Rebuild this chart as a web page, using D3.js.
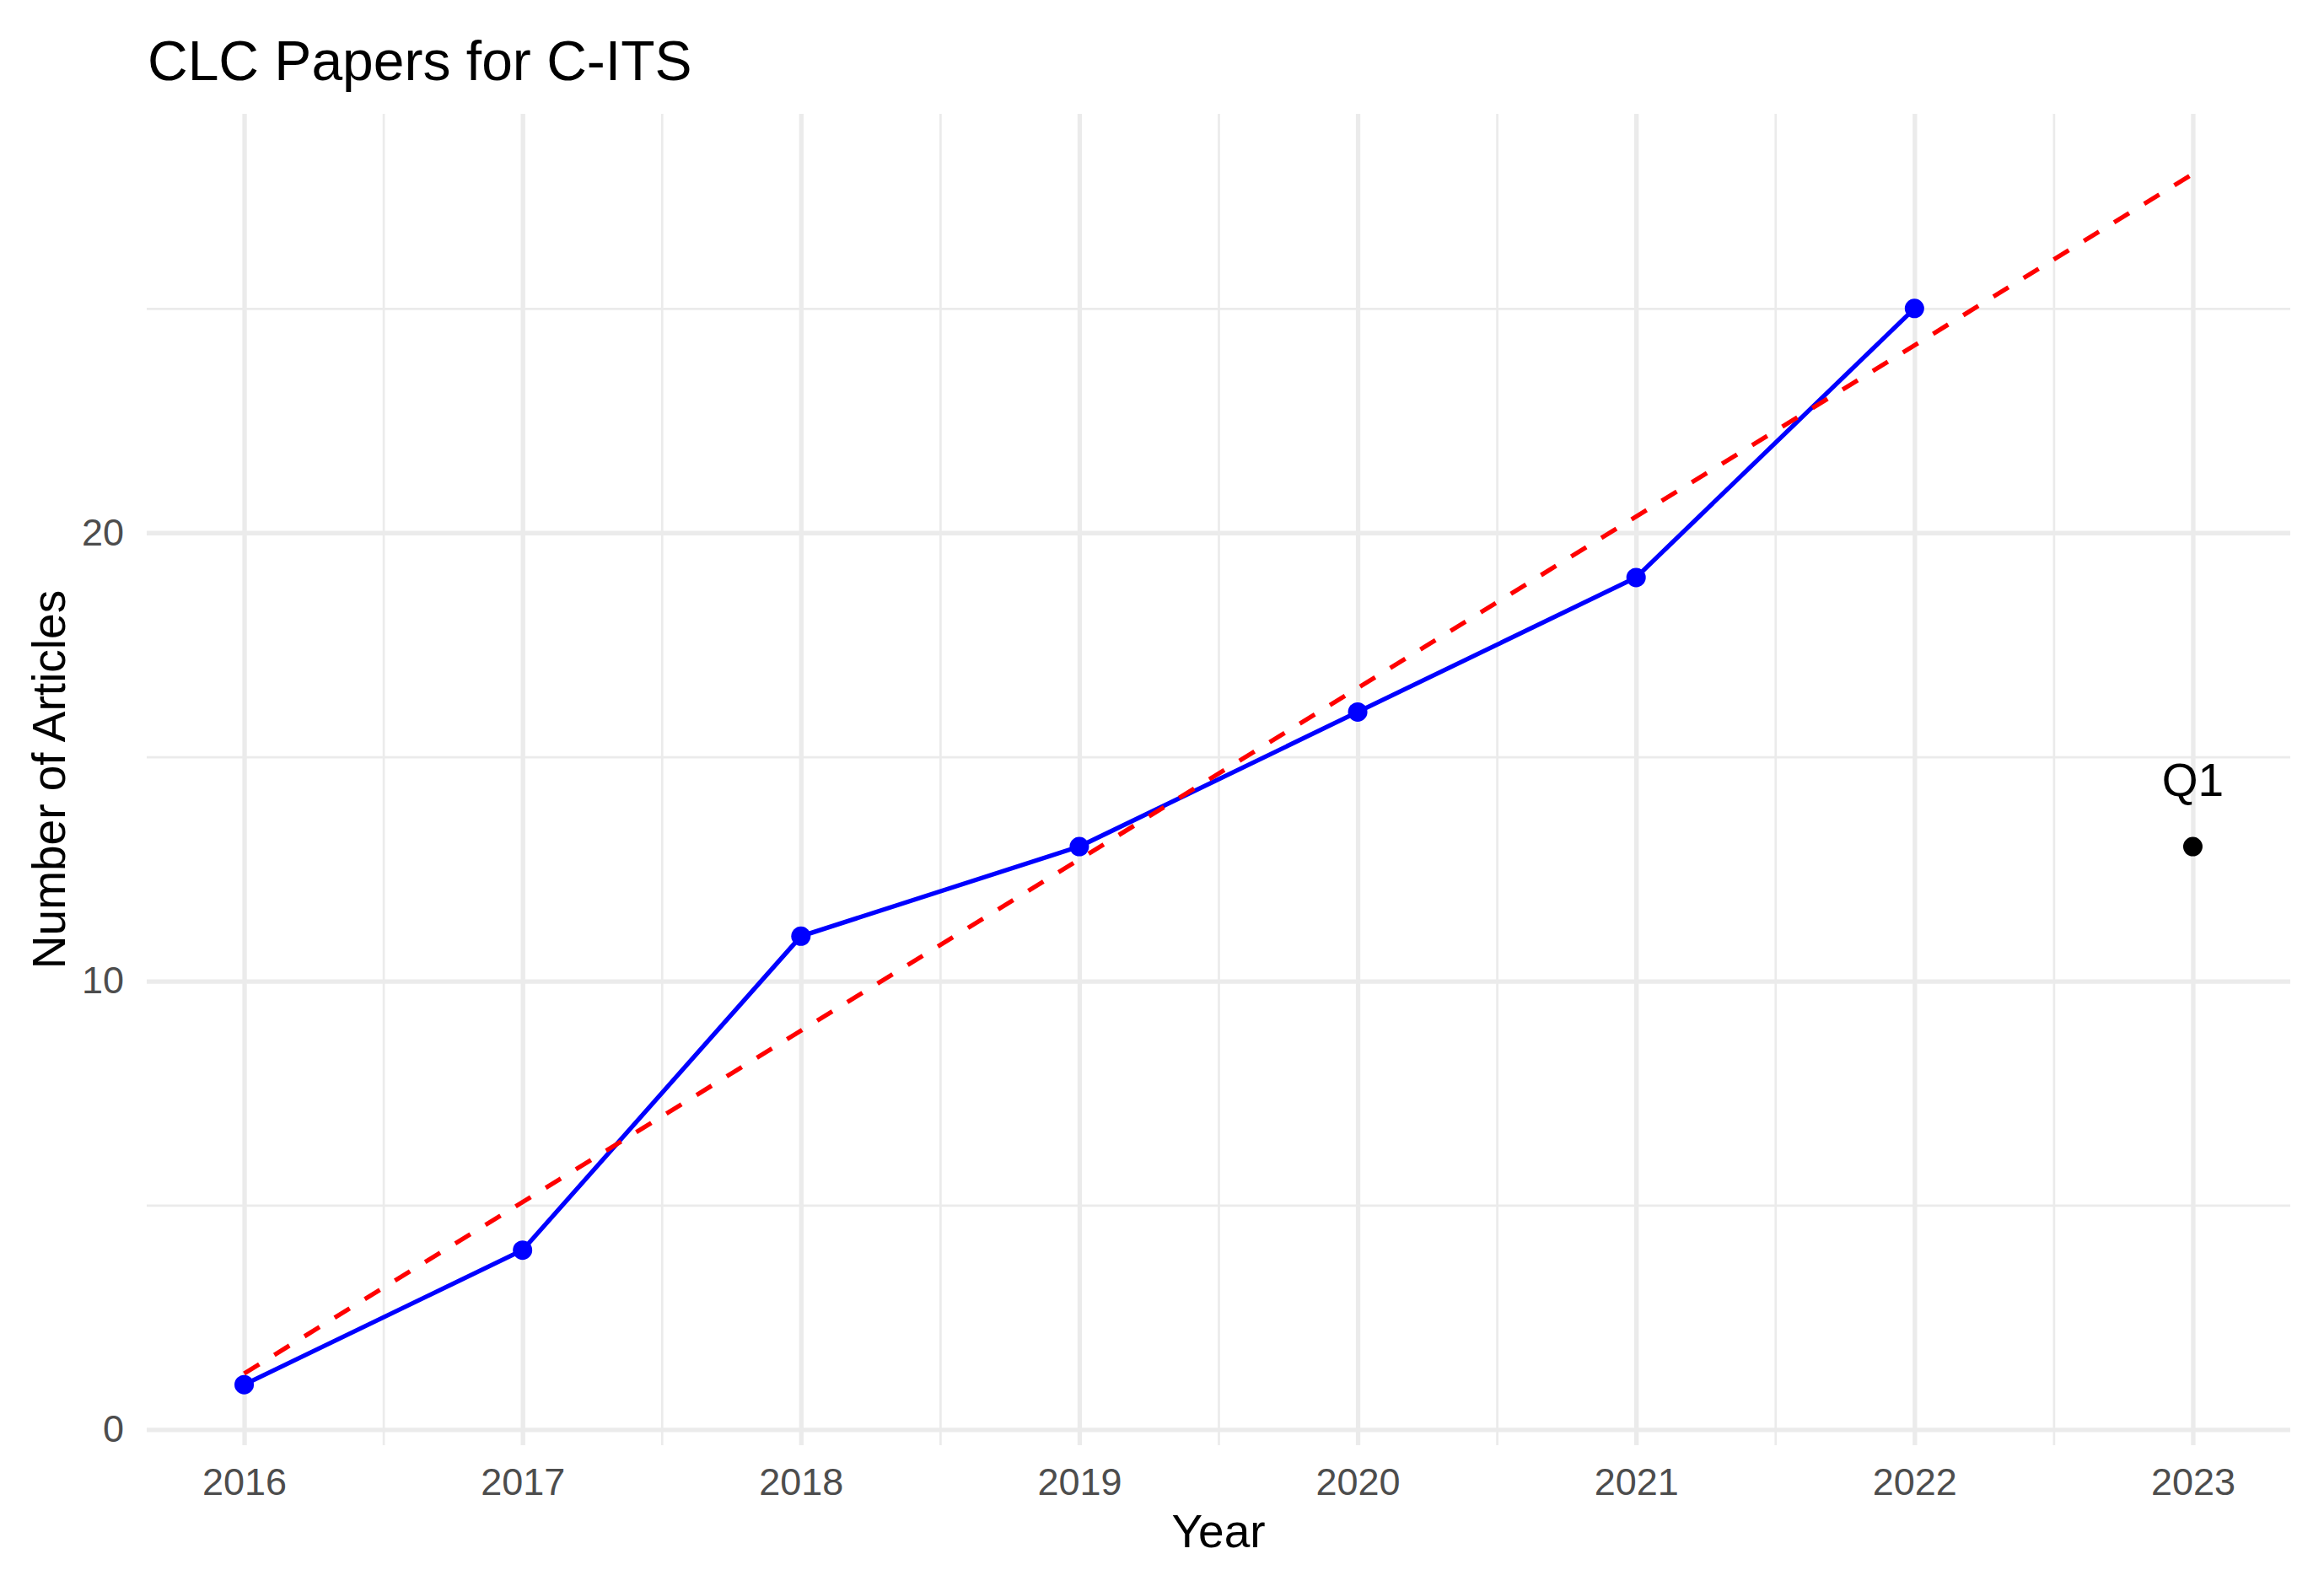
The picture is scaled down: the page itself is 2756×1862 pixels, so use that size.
<!DOCTYPE html>
<html>
<head>
<meta charset="utf-8">
<script src="https://cdn.jsdelivr.net/npm/d3@7"></script>
<style>
  html, body { margin: 0; padding: 0; background: #ffffff; }
  svg { display: block; }
  text { font-family: "Liberation Sans", Arial, Helvetica, sans-serif; }
</style>
</head>
<body>
<svg id="chart" width="2756" height="1862"></svg>
<script>
// ---- data ----
const years = [2016, 2017, 2018, 2019, 2020, 2021, 2022];
const articles = [1, 4, 11, 13, 16, 19, 25];
const q1Year = 2023;
const q1Value = 13;
const q1Label = "Q1";
const q1LabelValue = 14.5;
const trendYears = [2016, 2023];
const trendValues = [1.25, 28.0];
const xTickValues = [2016, 2017, 2018, 2019, 2020, 2021, 2022, 2023];
const xMinorValues = [2016.5, 2017.5, 2018.5, 2019.5, 2020.5, 2021.5, 2022.5];
const yTickValues = [0, 10, 20];
const yMinorValues = [5, 15, 25];
const titleText = "CLC Papers for C-ITS";
const xTitle = "Year";
const yTitle = "Number of Articles";

// ---- layout ----
const W = 2756, H = 1862;
const panel = { left: 174, right: 2716, top: 135, bottom: 1714 };

const svg = d3.select("#chart");
svg.append("rect").attr("width", W).attr("height", H).attr("fill", "#ffffff");

const x = d3.scaleLinear().domain([2015.65, 2023.35]).range([panel.left, panel.right]);
const y = d3.scaleLinear().domain([-0.35, 29.34]).range([panel.bottom, panel.top]);

const gridColor = "#EBEBEB";
const pw = panel.right - panel.left;
const ph = panel.bottom - panel.top;

// minor grid
svg.append("g").attr("transform", `translate(0,${panel.bottom})`)
  .call(d3.axisBottom(x).tickValues(xMinorValues).tickSize(-ph).tickFormat(""))
  .call(g => g.select(".domain").remove())
  .call(g => g.selectAll("line").attr("stroke", gridColor).attr("stroke-width", 2.7));
svg.append("g").attr("transform", `translate(${panel.left},0)`)
  .call(d3.axisLeft(y).tickValues(yMinorValues).tickSize(-pw).tickFormat(""))
  .call(g => g.select(".domain").remove())
  .call(g => g.selectAll("line").attr("stroke", gridColor).attr("stroke-width", 2.7));

// major grid
svg.append("g").attr("transform", `translate(0,${panel.bottom})`)
  .call(d3.axisBottom(x).tickValues(xTickValues).tickSize(-ph).tickFormat(""))
  .call(g => g.select(".domain").remove())
  .call(g => g.selectAll("line").attr("stroke", gridColor).attr("stroke-width", 5.3));
svg.append("g").attr("transform", `translate(${panel.left},0)`)
  .call(d3.axisLeft(y).tickValues(yTickValues).tickSize(-pw).tickFormat(""))
  .call(g => g.select(".domain").remove())
  .call(g => g.selectAll("line").attr("stroke", gridColor).attr("stroke-width", 5.3));

// axis labels
svg.append("g").attr("transform", `translate(0,${panel.bottom})`)
  .call(d3.axisBottom(x).tickValues(xTickValues).tickSize(0).tickPadding(27).tickFormat(d3.format("d")))
  .call(g => g.select(".domain").remove())
  .call(g => g.selectAll("text").attr("font-size", 45).attr("fill", "#4D4D4D")
    .attr("font-family", "Liberation Sans, Arial, sans-serif"));
svg.append("g").attr("transform", `translate(${panel.left},0)`)
  .call(d3.axisLeft(y).tickValues(yTickValues).tickSize(0).tickPadding(27).tickFormat(d3.format("d")))
  .call(g => g.select(".domain").remove())
  .call(g => g.selectAll("text").attr("font-size", 45).attr("fill", "#4D4D4D")
    .attr("font-family", "Liberation Sans, Arial, sans-serif"));

// blue line and points
const series = years.map((yr, i) => ({ year: yr, value: articles[i] }));
const line = d3.line().x(d => x(d.year)).y(d => y(d.value));
svg.append("path").datum(series)
  .attr("d", line).attr("fill", "none").attr("stroke", "#0000FF").attr("stroke-width", 5.3)
  .attr("stroke-linejoin", "round");
svg.append("g").selectAll("circle").data(series).join("circle")
  .attr("cx", d => x(d.year)).attr("cy", d => y(d.value)).attr("r", 11.5).attr("fill", "#0000FF");

// red dashed trend
const trend = trendYears.map((yr, i) => ({ year: yr, value: trendValues[i] }));
svg.append("path").datum(trend)
  .attr("d", line).attr("fill", "none").attr("stroke", "#FF0000").attr("stroke-width", 5.3)
  .attr("stroke-dasharray", "21,21");

// Q1 point and label
svg.append("circle").attr("cx", x(q1Year)).attr("cy", y(q1Value)).attr("r", 11.5).attr("fill", "#000000");
svg.append("text").attr("x", x(q1Year)).attr("y", y(q1LabelValue)).attr("dy", "0.36em")
  .attr("text-anchor", "middle").attr("font-size", 55).attr("fill", "#000000").text(q1Label);

// titles
svg.append("text").attr("x", 175).attr("y", 95).attr("font-size", 66).attr("fill", "#000000").text(titleText);
svg.append("text").attr("x", (panel.left + panel.right) / 2).attr("y", 1835)
  .attr("text-anchor", "middle").attr("font-size", 55).attr("fill", "#000000").text(xTitle);
svg.append("text").attr("transform", `translate(77,${(panel.top + panel.bottom) / 2}) rotate(-90)`)
  .attr("text-anchor", "middle").attr("font-size", 55).attr("fill", "#000000").text(yTitle);
</script>
</body>
</html>
